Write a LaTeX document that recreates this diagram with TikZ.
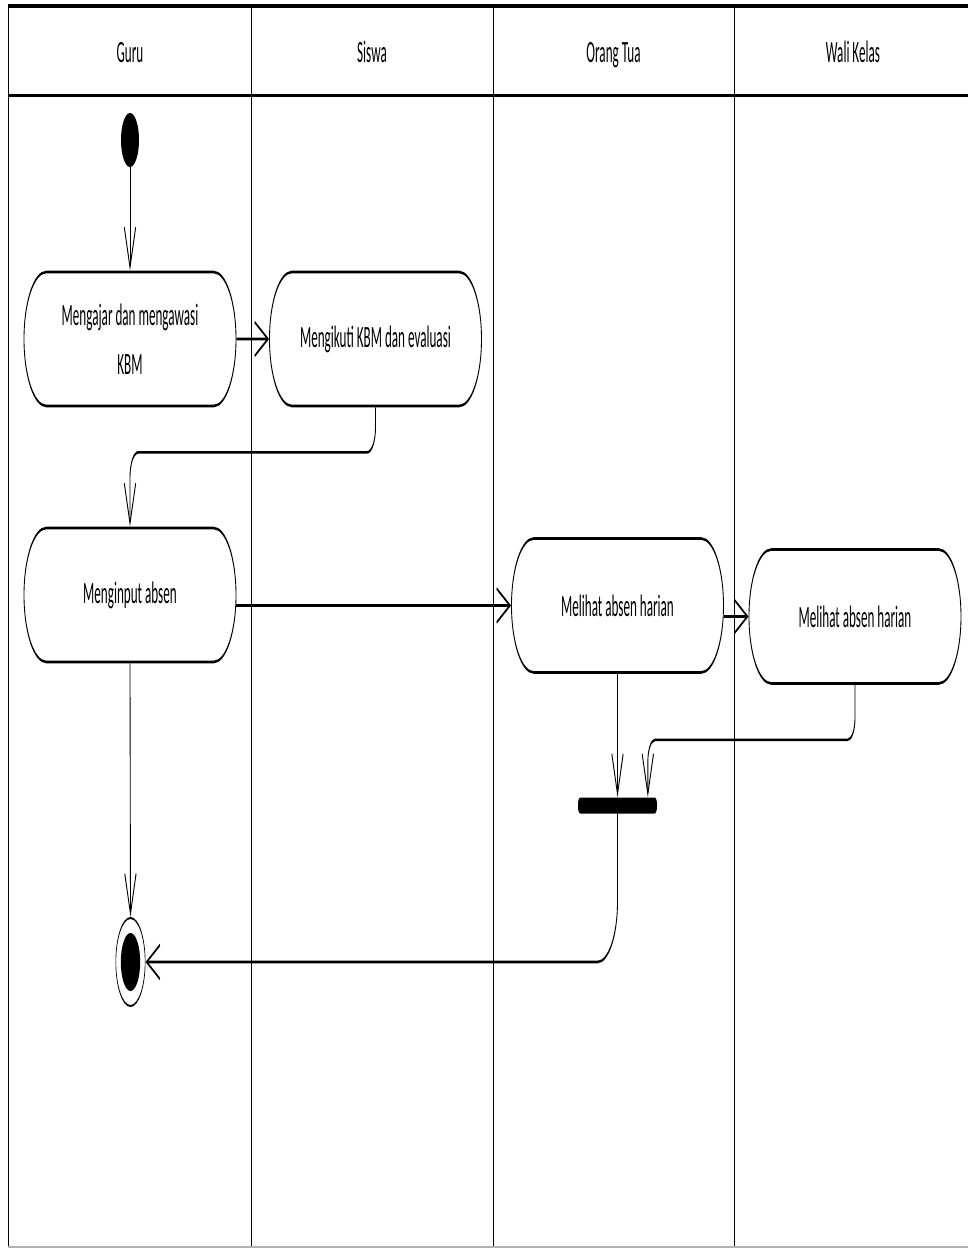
\documentclass[tikz,border=0pt]{standalone}
\usepackage{fontspec}
\setmainfont{Carlito}[FakeStretch=1.27]
\usetikzlibrary{arrows.meta,shapes.misc}
\tikzset{
  lane/.style={line width=2.6pt},
  act/.style={rounded rectangle, draw, line width=2.6pt, minimum width=636pt,
    minimum height=134pt, inner sep=0pt, align=center,
    font=\fontsize{31}{49}\selectfont},
  flow/.style={line width=2.6pt, -{Straight Barb[length=40pt,width=34pt]}},
  hdr/.style={font=\fontsize{31}{37}\selectfont, anchor=base, inner sep=0pt},
}
\begin{document}
\begin{tikzpicture}
\useasboundingbox (0,0) rectangle (968pt,-1248pt);
\fill[white] (0,0) rectangle (968pt,-1248pt);
\begin{scope}[x=3pt,y=-1pt,transform canvas={xscale=0.333333}]
  % swimlane frame
  \draw[lane, line width=3.5pt] (8,6) -- (968,6);
  \draw[lane, line width=3pt] (8,95) -- (968,95);
  \draw[lane] (8,6) -- (8,1246);
  \foreach \x in {251,493,734} \draw[lane] (\x,6) -- (\x,1246);
  \draw[gray!60, line width=2pt] (8,1246.5) -- (968,1246.5);
  % lane headers
  \node[hdr] (hguru) at (130,62) {Guru};
  \node[hdr] (hsiswa) at (372,62) {Siswa};
  \node[hdr] (hortu) at (613.5,62) {Orang Tua};
  \node[hdr] (hwali) at (853,62) {Wali Kelas};
  % nodes
  \node[circle, fill, minimum size=54pt, inner sep=0pt] (init) at (130,140) {};
  \node[act] (n1) at (130,339) {Mengajar dan mengawasi\\KBM};
  \node[act] (n2) at (375.5,339) {Mengikuti KBM dan evaluasi};
  \node[act] (n3) at (130,595) {Menginput absen};
  \node[act] (n4) at (617.5,605.5) {Melihat absen harian};
  \node[act] (n5) at (855,616.5) {Melihat absen harian};
  \node[rectangle, fill, rounded corners=7pt, minimum width=237pt,
        minimum height=16pt, inner sep=0pt] (bar) at (617.5,805.5) {};
  \node[circle, draw, line width=2pt, minimum size=88pt, inner sep=0pt] (fin) at (130.5,962) {};
  \node[circle, fill, minimum size=58pt, inner sep=0pt] (finin) at (fin) {};
  % connectors
  \draw[flow] (init) -- (n1);
  \draw[flow] (n1) -- (n2);
  \draw[flow, rounded corners=25pt] (n2.south) -- ++(0,45) -| (n3.north);
  \draw[flow] (n3.east |- n4.west) -- (n4.west);
  \draw[flow] (n4.east |- n5.west) -- (n5.west);
  \draw[flow] (n4.south) -- (bar.north -| n4.south);
  \draw[flow, rounded corners=22pt] (n5.south) -- ++(0,55) -| ([xshift=91pt]bar.north);
  \draw[flow, rounded corners=60pt] (bar.south) |- (fin.east);
  \draw[flow] (n3.south) -- (fin.north);
\end{scope}
\end{tikzpicture}
\end{document}
